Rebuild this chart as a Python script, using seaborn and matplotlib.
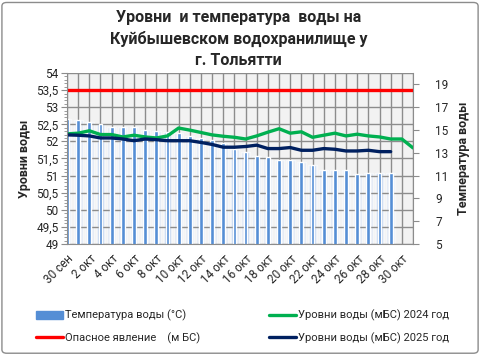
import numpy as np
import pandas as pd
import matplotlib
matplotlib.use('Agg')
import matplotlib.pyplot as plt
from matplotlib.ticker import MultipleLocator, FuncFormatter
from matplotlib.lines import Line2D
from matplotlib.patches import Patch, FancyBboxPatch
import seaborn as sns

# data
dates = ['30 сен'] + [f'{d} окт' for d in range(1, 32)]
temp = [16.0, 15.9, 15.7, 15.5, 15.3, 15.3, 15.3, 15.0, 14.9, 14.8,
        14.7, 14.5, 14.3, 14.1, 13.9, 13.3, 13.1, 12.7, 12.6, 12.4,
        12.4, 12.2, 11.9, 11.5, 11.5, 11.5, 11.1, 11.2, 11.2, 11.2]
level_2024 = [52.22, 52.24, 52.31, 52.20, 52.20, 52.13, 52.18, 52.13, 52.10, 52.16,
              52.39, 52.33, 52.26, 52.19, 52.15, 52.12, 52.07, 52.16, 52.27, 52.37,
              52.24, 52.28, 52.12, 52.18, 52.24, 52.16, 52.21, 52.16, 52.13, 52.07,
              52.07, 51.81]
level_2025 = [52.19, 52.18, 52.16, 52.10, 52.10, 52.07, 52.02, 52.07, 52.05, 52.02,
              52.02, 52.02, 51.97, 51.91, 51.83, 51.83, 51.85, 51.89, 51.79, 51.79,
              51.82, 51.74, 51.74, 51.79, 51.77, 51.72, 51.72, 51.74, 51.70, 51.70]
danger = [53.5] * len(dates)

title = 'Уровни  и температура  воды на\nКуйбышевском водохранилище у\nг. Тольятти'

sns.set_style('white')
plt.rcParams['font.family'] = ['Roboto', 'DejaVu Sans']

c_bar = '#558ed5'
c_red = '#ff0000'
c_green = '#00b050'
c_navy = '#002060'
c_grid = '#8c8c8c'

fig = plt.figure(figsize=(4.81, 3.55), dpi=100)
ax_t = fig.add_axes([0.1393, 0.3127, 0.7193, 0.4817])
ax_l = ax_t.twinx()

# temperature bars (host axis, ticks on the right) - soft glow under the grid, solid core above it
df_t = pd.DataFrame({'date': dates[:len(temp)], 'temp': temp})
for w, col, a, z in [(0.8, '#d3e1f4', 0.6, 1), (0.55, '#a9c4ea', 0.6, 1), (0.34, c_bar, 1.0, 2)]:
    n_before = len(ax_t.patches)
    sns.barplot(data=df_t, x='date', y='temp', order=dates, color=col,
                width=w, alpha=a, saturation=1, errorbar=None, ax=ax_t)
    for p in ax_t.patches[n_before:]:
        p.set_zorder(z)

# level lines on the twin axis, ticks on the left
df_24 = pd.DataFrame({'x': np.arange(len(level_2024)), 'y': level_2024})
df_25 = pd.DataFrame({'x': np.arange(len(level_2025)), 'y': level_2025})
df_d = pd.DataFrame({'x': np.arange(len(danger)), 'y': danger})
sns.lineplot(data=df_d, x='x', y='y', color=c_red, lw=2.4, ax=ax_l)
sns.lineplot(data=df_24, x='x', y='y', color=c_green, lw=2.4, ax=ax_l)
sns.lineplot(data=df_25, x='x', y='y', color=c_navy, lw=2.4, ax=ax_l)

ax_t.set_xlim(0, len(dates) - 1)
ax_t.set_ylim(5, 20)
ax_l.set_ylim(49, 54)

ax_t.yaxis.tick_right()
ax_t.yaxis.set_label_position('right')
ax_l.yaxis.tick_left()
ax_l.yaxis.set_label_position('left')

ax_t.set_facecolor('#f2f2f2')
ax_l.patch.set_visible(False)

ax_t.set_xticks(range(len(dates)))
ax_t.set_xticklabels([d if i % 2 == 0 else '' for i, d in enumerate(dates)],
                     rotation=45, ha='right', rotation_mode='anchor', fontsize=8.5)
ax_t.set_yticks(np.arange(5, 20, 2))
# level gridlines every 0.5 m = every 1.5 degrees on the host axis
ax_t.yaxis.set_minor_locator(MultipleLocator(1.5, offset=0.5))
ax_t.yaxis.remove_overlapping_locs = False
ax_t.set_axisbelow('line')
ax_t.grid(axis='x', which='major', color=c_grid, lw=1)
ax_t.grid(axis='y', which='minor', color=c_grid, lw=1)
ax_t.grid(axis='y', which='major', visible=False)
ax_t.tick_params(axis='y', which='minor', length=0)
ax_t.tick_params(axis='y', which='major', labelsize=8.5, length=4, color=c_grid, pad=12)
ax_t.tick_params(axis='x', length=4, color=c_grid, pad=2)

ax_l.yaxis.set_major_locator(MultipleLocator(0.5))
ax_l.yaxis.set_minor_locator(MultipleLocator(0.1))
ax_l.yaxis.set_major_formatter(FuncFormatter(lambda v, p: f'{v:g}'.replace('.', ',')))
ax_l.tick_params(axis='y', which='major', labelsize=8.5, length=4, color=c_grid, pad=2)
ax_l.tick_params(axis='y', which='minor', length=2, color=c_grid)

ax_t.set_xlabel('')
ax_t.set_ylabel('Температура воды', fontsize=9, fontweight='bold', labelpad=6)
ax_l.set_xlabel('')
ax_l.set_ylabel('Уровни воды', fontsize=9, fontweight='bold', labelpad=4)

for a in (ax_t, ax_l):
    for s in a.spines.values():
        s.set_visible(False)
ax_t.spines['bottom'].set_visible(True)
ax_t.spines['bottom'].set_color(c_grid)
ax_t.spines['right'].set_visible(True)
ax_t.spines['right'].set_color(c_grid)
ax_l.spines['left'].set_visible(True)
ax_l.spines['left'].set_color(c_grid)

fig.text(0.496, 0.89, title, ha='center', va='center', fontsize=11.5,
         fontweight='bold', linespacing=1.5)

handles = [Patch(color=c_bar, label='Температура воды (°С)'),
           Line2D([], [], color=c_red, lw=2.4, label='Опасное явление    (м БС)'),
           Line2D([], [], color=c_green, lw=2.4, label='Уровни воды (мБС) 2024 год'),
           Line2D([], [], color=c_navy, lw=2.4, label='Уровни воды (мБС) 2025 год')]
fig.legend(handles=handles, ncol=2, loc='lower left', bbox_to_anchor=(0.055, 0.003),
           frameon=False, fontsize=8, handlelength=2.4, handletextpad=0.2,
           columnspacing=6.2, labelspacing=1.0)

fig.patches.append(FancyBboxPatch((0.004, 0.005), 0.99, 0.988, boxstyle='round,pad=0,rounding_size=0.01',
                                  transform=fig.transFigure, fill=False, edgecolor='#8c8c8c', lw=1))

fig.savefig('out.png', dpi=100)
